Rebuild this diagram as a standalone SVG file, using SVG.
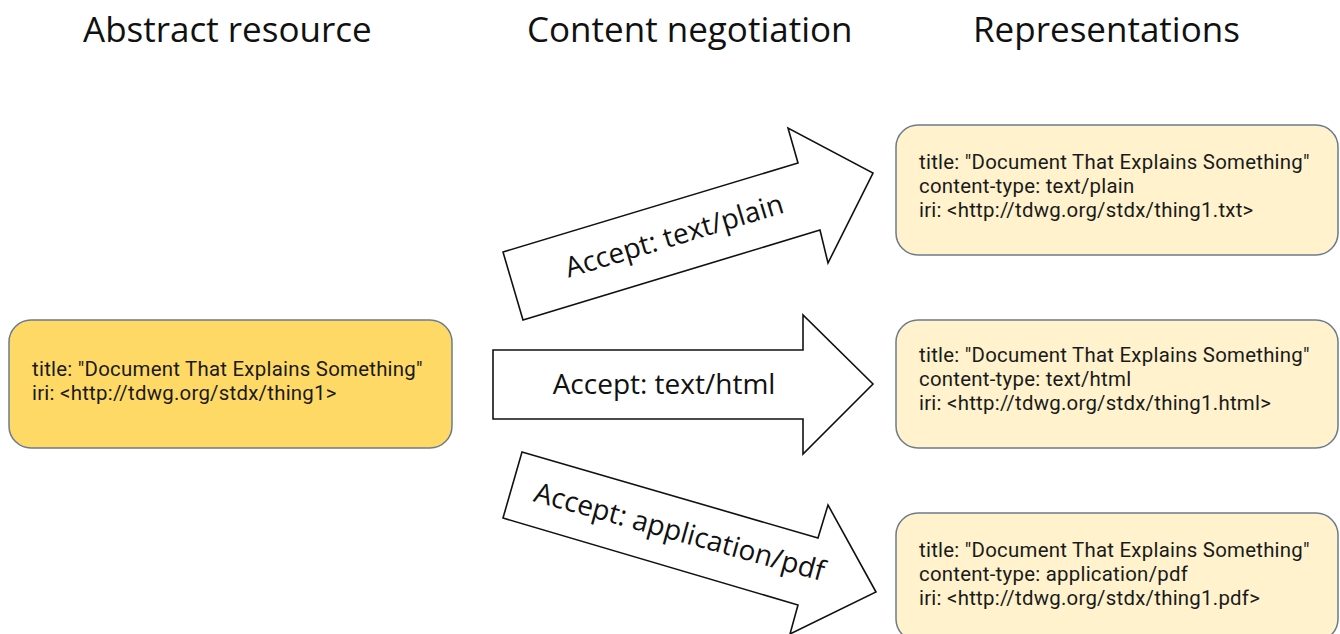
<svg xmlns="http://www.w3.org/2000/svg" width="1340" height="634" viewBox="0 0 1340 634">
<style>
.hdr{font-family:"Open Sans","Liberation Sans",sans-serif;font-size:35px;fill:#111;}
.body{font-family:Roboto,"Liberation Sans",sans-serif;font-size:20.4px;letter-spacing:0.25px;fill:#1a1a1a;}
.lbl{font-family:"Open Sans","Liberation Sans",sans-serif;font-size:28px;fill:#111;text-anchor:middle;}
.abs{fill:#FFD966;stroke:#6b7c8c;stroke-width:1.5;}
.rep{fill:#FFF2CC;stroke:#6b7c8c;stroke-width:1.5;}
.arr{fill:#fff;stroke:#111;stroke-width:1.6;stroke-linejoin:miter;}
</style>
<rect width="1340" height="634" fill="#fff"/>
<g id="headers">
<text class="hdr" x="83" y="42">Abstract resource</text>
<text class="hdr" x="527" y="42">Content negotiation</text>
<text class="hdr" x="973" y="42">Representations</text>
</g>
<g id="connectors">
<g id="arrow-plain">
<polygon class="arr" points="523,320 503,252 798,163 788,128 873,173 828,263 820,230"/>
<text class="lbl" transform="translate(677,245) rotate(-16.8)">Accept: text/plain</text>
</g>
<g id="arrow-html">
<polygon class="arr" points="493,350 803,350 803,315 873,384 803,454 803,419 493,419"/>
<text class="lbl" x="664" y="394">Accept: text/html</text>
</g>
<g id="arrow-pdf">
<polygon class="arr" points="522,452 818,538 828,505 876,592 790,634 798,605 503,518"/>
<text class="lbl" transform="translate(677,541) rotate(15.5)">Accept: application/pdf</text>
</g>
</g>
<g id="abstract-resource">
<rect class="abs" x="9" y="320" width="443" height="128" rx="22"/>
<text class="body"><tspan x="32" y="376">title: "Document That Explains Something"</tspan><tspan x="32" y="400">iri: &lt;http://tdwg.org/stdx/thing1&gt;</tspan></text>
</g>
<g id="rep-plain">
<rect class="rep" x="896" y="125" width="442" height="130" rx="22"/>
<text class="body"><tspan x="919" y="169">title: "Document That Explains Something"</tspan><tspan x="919" y="193">content-type: text/plain</tspan><tspan x="919" y="217">iri: &lt;http://tdwg.org/stdx/thing1.txt&gt;</tspan></text>
</g>
<g id="rep-html">
<rect class="rep" x="896" y="320" width="442" height="128" rx="22"/>
<text class="body"><tspan x="919" y="362">title: "Document That Explains Something"</tspan><tspan x="919" y="386">content-type: text/html</tspan><tspan x="919" y="410">iri: &lt;http://tdwg.org/stdx/thing1.html&gt;</tspan></text>
</g>
<g id="rep-pdf">
<rect class="rep" x="896" y="513" width="442" height="128" rx="22"/>
<text class="body"><tspan x="919" y="557">title: "Document That Explains Something"</tspan><tspan x="919" y="581">content-type: application/pdf</tspan><tspan x="919" y="605">iri: &lt;http://tdwg.org/stdx/thing1.pdf&gt;</tspan></text>
</g>
</svg>
